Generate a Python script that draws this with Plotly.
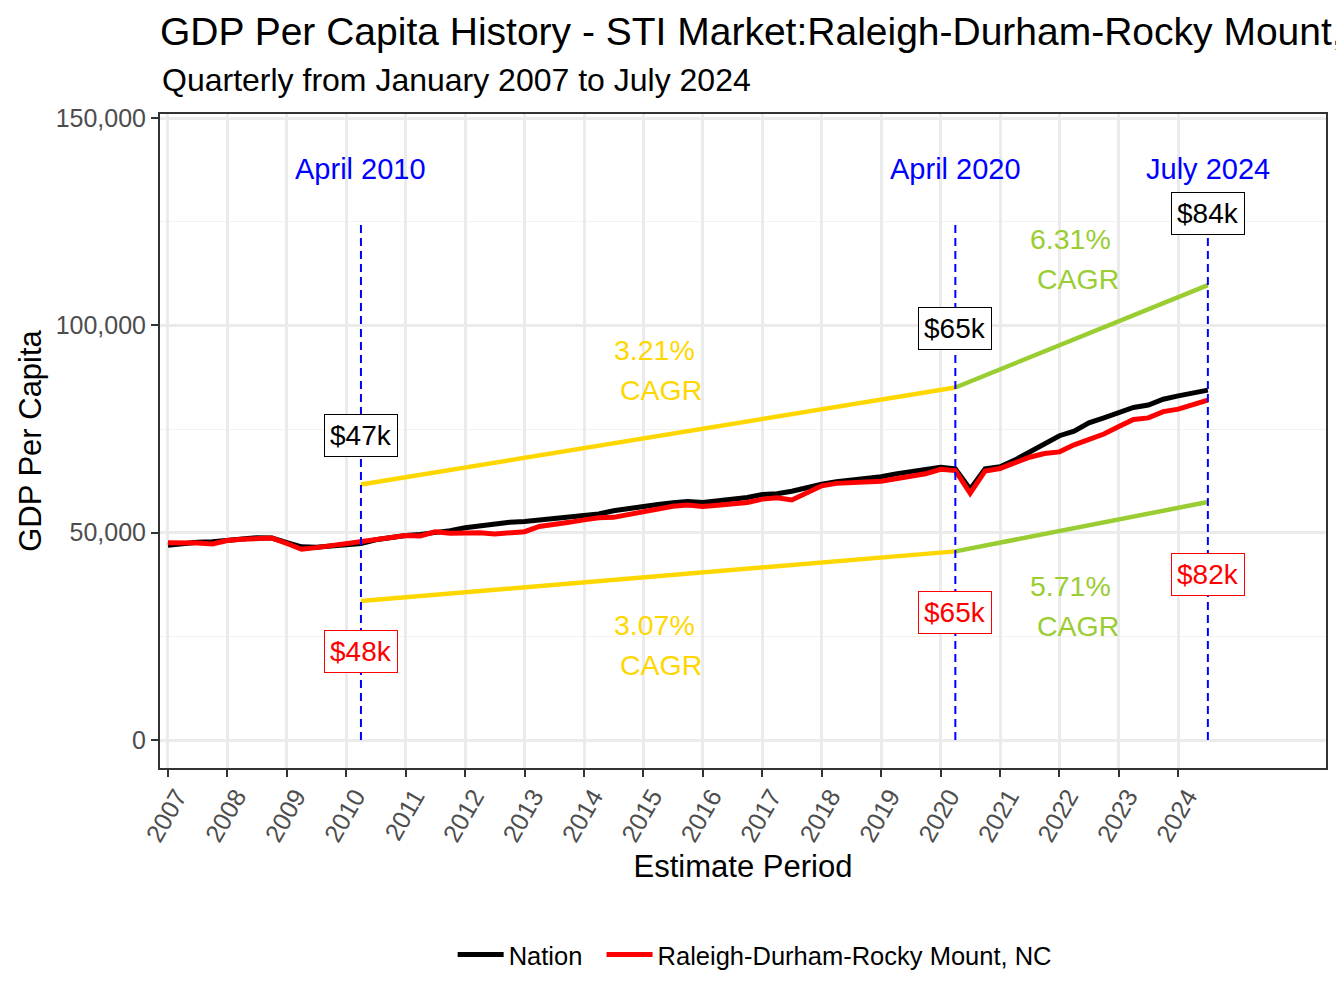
import pandas as pd
import plotly.graph_objects as go

# quarterly GDP per capita, thousands of dollars, Jan 2007 .. Jul 2024
dates = pd.date_range("2007-01-01", "2024-07-01", freq="QS")

nation = [
    47.0, 47.5, 47.7, 47.8, 48.3, 48.5, 48.8, 48.7, 47.6, 46.6,
    46.5, 46.9, 47.2, 47.4, 48.3, 48.9, 49.3, 49.6, 50.0, 50.5,
    51.2, 51.7, 52.1, 52.5, 52.7, 53.1, 53.3, 53.7, 54.3, 54.5,
    55.3, 55.9, 56.4, 56.8, 57.2, 57.5, 57.3, 57.6, 58.0, 58.5,
    59.2, 59.4, 60.0, 60.9, 61.7, 62.3, 62.7, 63.1, 63.5, 64.2,
    64.8, 65.4, 65.8, 65.4, 60.5, 65.4, 65.9, 67.5, 69.5, 71.2,
    73.4, 74.5, 76.5, 77.7, 78.9, 80.2, 80.8, 82.2, 83.0, 83.6,
    84.4,
]
raleigh = [
    47.6, 47.7, 47.5, 47.3, 48.1, 48.4, 48.6, 48.7, 47.4, 46.0,
    46.4, 46.9, 47.5, 47.9, 48.5, 48.9, 49.3, 49.2, 50.2, 49.9,
    50.0, 50.0, 49.7, 49.85, 50.25, 51.5, 51.9, 52.5, 53.1, 53.6,
    53.7, 54.4, 54.8, 55.7, 56.4, 56.7, 56.3, 56.6, 56.8, 57.3,
    58.1, 58.4, 57.9, 59.7, 61.3, 61.9, 62.1, 62.3, 62.4, 63.0,
    63.5, 64.2, 65.3, 65.0, 59.5, 64.9, 65.5, 66.7, 68.2, 69.1,
    69.5, 71.2, 72.5, 73.8, 75.6, 77.3, 77.7, 79.2, 79.8, 80.8,
    82.0,
]
nation = [v * 1000 for v in nation]
raleigh = [v * 1000 for v in raleigh]

years = list(range(2007, 2025))

# marked periods (index into dates) and their names
mark_idx = [13, 53, 70]
mark_names = ["April 2010", "April 2020", "July 2024"]
cagr_nation = ["3.21%", "6.31%"]
cagr_market = ["3.07%", "5.71%"]

FONT = "Liberation Sans, Arial, sans-serif"
GOLD = "#FFD700"
GREEN = "#9ACD32"
vline_top = 125400

fig = go.Figure()
fig.add_trace(go.Scatter(x=dates, y=nation, mode="lines", name="Nation\u00a0\u00a0",
                         line=dict(color="black", width=5)))
fig.add_trace(go.Scatter(x=dates, y=raleigh, mode="lines",
                         name="Raleigh-Durham-Rocky Mount, NC",
                         line=dict(color="red", width=5)))

# offset CAGR segments: nation above (x1.3), market below (x0.7)
for series, k in [(nation, 1.3), (raleigh, 0.7)]:
    for (a, b), col in zip([(mark_idx[0], mark_idx[1]), (mark_idx[1], mark_idx[2])], [GOLD, GREEN]):
        fig.add_trace(go.Scatter(x=[dates[a], dates[b]], y=[series[a] * k, series[b] * k],
                                 mode="lines", line=dict(color=col, width=4.5),
                                 showlegend=False, hoverinfo="skip"))

for i in mark_idx:
    fig.add_trace(go.Scatter(x=[dates[i], dates[i]], y=[0, vline_top], mode="lines",
                             line=dict(color="blue", width=2, dash="8px,5px"),
                             showlegend=False, hoverinfo="skip"))

# period names
for i, name in zip(mark_idx, mark_names):
    fig.add_annotation(x=dates[i], y=137700, text=name, showarrow=False,
                       font=dict(family=FONT, size=29, color="blue"))

# value labels
nat_label_y = [73550, 99360, 127100]
mkt_label_y = [21460, 30870, 40030]
for i, yy in zip(mark_idx, nat_label_y):
    fig.add_annotation(x=dates[i], y=yy, text=f"${nation[i] / 1000:.0f}k", showarrow=False,
                       font=dict(family=FONT, size=28, color="black"),
                       bgcolor="white", bordercolor="black", borderwidth=1, borderpad=5)
for i, yy in zip(mark_idx, mkt_label_y):
    fig.add_annotation(x=dates[i], y=yy, text=f"${raleigh[i] / 1000:.0f}k", showarrow=False,
                       font=dict(family=FONT, size=28, color="red"),
                       bgcolor="white", bordercolor="red", borderwidth=1, borderpad=5)

# CAGR texts (two lines each)
cagr_x = [pd.Timestamp("2015-03-10"), pd.Timestamp("2022-03-10")]
cagr_cols = [GOLD, GREEN]
for txts, ys in [(cagr_nation, [89200, 116000]), (cagr_market, [23000, 32300])]:
    for x, txt, col, yy in zip(cagr_x, txts, cagr_cols, ys):
        fig.add_annotation(x=x, y=yy, text=txt, showarrow=False, yshift=20,
                           font=dict(family=FONT, size=28.5, color=col))
        fig.add_annotation(x=x, y=yy, text="CAGR", showarrow=False, yshift=-20, xshift=7,
                           font=dict(family=FONT, size=28.5, color=col))

fig.add_annotation(text="Quarterly from January 2007 to July 2024", xref="paper", yref="paper",
                   x=0, y=1.052, xanchor="left", yanchor="middle", showarrow=False,
                   font=dict(family=FONT, size=32, color="black"))

# page has an 8px body margin, so the figure is 16px smaller than the window
fig.update_layout(
    width=1328, height=992,
    margin=dict(l=152, r=8, t=106, b=232),
    paper_bgcolor="white", plot_bgcolor="white",
    font=dict(family=FONT, color="black"),
    title=dict(text="GDP Per Capita History - STI Market:Raleigh-Durham-Rocky Mount, NC",
               x=0, xref="paper", xanchor="left", y=1 - 23 / 992, yref="container",
               yanchor="middle", font=dict(family=FONT, size=39, color="black")),
    legend=dict(orientation="h", x=0.51, xanchor="center", y=-0.286, yanchor="middle",
                font=dict(family=FONT, size=25.5, color="black"), itemwidth=46),
    showlegend=True,
)
fig.update_xaxes(
    range=["2006-11-13", "2026-06-27"],
    tickvals=[f"{y}-01-01" for y in years], ticktext=[str(y) for y in years],
    tickangle=-60, tickfont=dict(family=FONT, size=25, color="#4D4D4D"),
    ticklabelshift=9, ticklabelstandoff=-5,
    ticks="outside", ticklen=7, tickwidth=2, tickcolor="#333333",
    showgrid=True, gridcolor="#EBEBEB", gridwidth=2.5,
    showline=True, mirror=True, linecolor="#333333", linewidth=2, zeroline=False,
    title=dict(text="Estimate Period", standoff=10, font=dict(family=FONT, size=31, color="black")),
)
fig.update_yaxes(
    range=[-6750, 150990], tick0=0, dtick=50000, tickformat=",",
    tickfont=dict(family=FONT, size=25, color="#4D4D4D"),
    ticks="outside", ticklen=7, tickwidth=2, tickcolor="#333333",
    showgrid=True, gridcolor="#EBEBEB", gridwidth=2.5,
    minor=dict(dtick=25000, showgrid=True, gridcolor="#F2F2F2", gridwidth=1.2),
    showline=True, mirror=True, linecolor="#333333", linewidth=2, zeroline=False,
    title=dict(text="GDP Per Capita", standoff=5, font=dict(family=FONT, size=31, color="black")),
)

fig.write_html("out.html")
